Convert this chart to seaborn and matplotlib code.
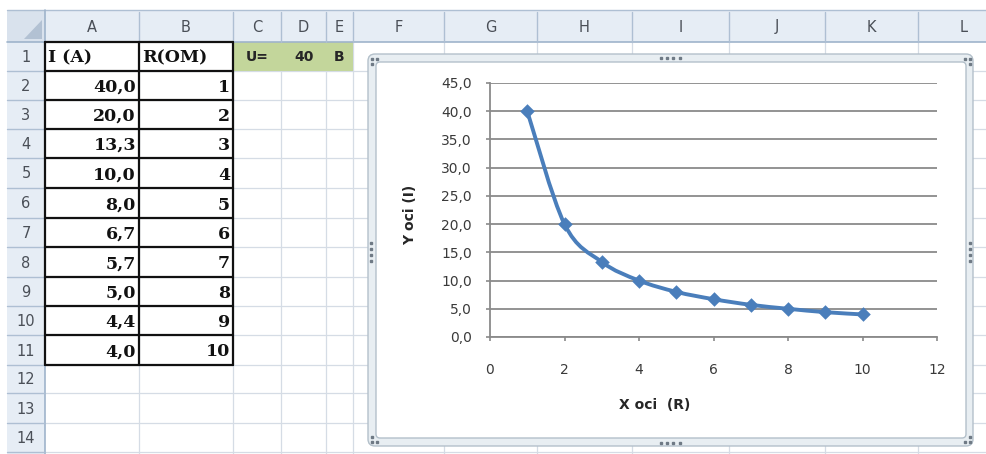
import numpy as np
import pandas as pd
import seaborn as sns
import matplotlib
matplotlib.use("Agg")
import matplotlib.pyplot as plt
from matplotlib.patches import Rectangle, FancyBboxPatch, PathPatch, Polygon
from matplotlib.path import Path
from matplotlib.ticker import FuncFormatter, FixedLocator

# ---------------- data ----------------
current_a = [40.0, 20.0, 13.3, 10.0, 8.0, 6.7, 5.7, 5.0, 4.4, 4.0]
resist_om = [1, 2, 3, 4, 5, 6, 7, 8, 9, 10]
voltage_label = ["U=", "40", "B"]
header_i = "I (A)"
header_r = "R(OM)"
col_letters = ["A", "B", "C", "D", "E", "F", "G", "H", "I", "J", "K", "L"]
row_numbers = list(range(1, 15))
x_ticks = [0, 2, 4, 6, 8, 10, 12]
y_ticks = [0, 5, 10, 15, 20, 25, 30, 35, 40, 45]
x_title = "X oci  (R)"
y_title = "Y oci (I)"

df = pd.DataFrame({"R": resist_om, "I": current_a})

sns.set_theme(style="white")
plt.rcParams["font.family"] = ["DejaVu Sans"]

W, H = 986, 454
fig = plt.figure(figsize=(W / 100, H / 100), dpi=100)
fig.patch.set_facecolor("white")

# background "spreadsheet" in pixel coordinates
bg = fig.add_axes([0, 0, 1, 1])
bg.set_xlim(0, W)
bg.set_ylim(H, 0)
bg.axis("off")

col_edges = [45, 139, 233, 281, 326, 353, 444, 537, 632, 729, 825, 918, 1010]
row_edges = [42, 71, 100, 129, 158, 188, 218, 247, 277, 306, 335, 365, 393, 423, 452]
hdr_fill = "#e6edf5"
hdr_line = "#aebfd3"
grid_col = "#d5dce5"

# header band and row header column
bg.add_patch(Rectangle((7, 10), W - 7, 32, fc=hdr_fill, ec="none", zorder=1))
bg.add_patch(Rectangle((7, 42), 38, H - 42, fc=hdr_fill, ec="none", zorder=1))
bg.add_patch(Rectangle((7, 10), 38, 32, fc="#d9e2ed", ec="none", zorder=1))
bg.add_patch(Polygon([(42, 20), (42, 39), (24, 39)], closed=True, fc="#b2c1d3", ec="none", zorder=2))
bg.plot([7, W], [10, 10], color=hdr_line, lw=1, zorder=2)
bg.plot([7, W], [42, 42], color="#9fb4cb", lw=1.2, zorder=2)
bg.plot([45, 45], [10, H], color="#9fb4cb", lw=1.2, zorder=2)
for x in col_edges[1:]:
    bg.plot([x, x], [12, 42], color=hdr_line, lw=1, zorder=2)
for y in row_edges[1:]:
    bg.plot([7, 45], [y, y], color=hdr_line, lw=1, zorder=2)

# cell gridlines
for x in col_edges[1:]:
    bg.plot([x, x], [42, H], color=grid_col, lw=0.9, zorder=1)
for y in row_edges[1:]:
    bg.plot([45, W], [y, y], color=grid_col, lw=0.9, zorder=1)

# header texts
for i, letter in enumerate(col_letters):
    cx = (col_edges[i] + col_edges[i + 1]) / 2
    bg.text(cx, 27, letter, ha="center", va="center", fontsize=10.5, color="#4a4f57", zorder=3)
for i, rn in enumerate(row_numbers):
    cy = (row_edges[i] + row_edges[i + 1]) / 2
    bg.text(26, cy + 1, str(rn), ha="center", va="center", fontsize=10.5, color="#4a4f57", zorder=3)

# green U= 40 B cells
bg.add_patch(Rectangle((233, 42), 120, 29, fc="#c3d69b", ec="none", zorder=1.5))
u_x = [257, 304, 339]
for xx, t in zip(u_x, voltage_label):
    bg.text(xx, 57, t, ha="center", va="center", fontsize=10, fontweight="bold", color="#262626", zorder=3)

# table borders (A1:B11)
for y in row_edges[:12]:
    bg.plot([45, 233], [y, y], color="#111111", lw=1.6, zorder=3)
for x in [45, 139, 233]:
    bg.plot([x, x], [42, 365], color="#111111", lw=1.6, zorder=3)

serif = ["DejaVu Serif"]
bg.text(48, 58, header_i, ha="left", va="center", fontsize=12.5, fontweight="bold", family=serif, color="#111111", zorder=4)
bg.text(142, 58, header_r, ha="left", va="center", fontsize=12.5, fontweight="bold", family=serif, color="#111111", zorder=4)
for i, (iv, rv) in enumerate(zip(current_a, resist_om)):
    cy = (row_edges[i + 1] + row_edges[i + 2]) / 2 + 2
    bg.text(136, cy, f"{iv:.1f}".replace(".", ","), ha="right", va="center", fontsize=12.5,
            fontweight="bold", family=serif, color="#111111", zorder=4)
    bg.text(230, cy, str(rv), ha="right", va="center", fontsize=12.5,
            fontweight="bold", family=serif, color="#111111", zorder=4)

# chart frame
bg.add_patch(FancyBboxPatch((368, 54), 605, 392, boxstyle="round,pad=0,rounding_size=7",
                            fc="#e8eef2", ec="#b3c0ca", lw=1, zorder=5))
bg.add_patch(FancyBboxPatch((376, 62), 590, 376, boxstyle="round,pad=0,rounding_size=4",
                            fc="white", ec="#b3c0ca", lw=1, zorder=5))
dot_kw = dict(ls="none", marker="s", ms=1.8, color="#6f7a85", zorder=6)
bg.plot([661, 667, 673, 680], [58, 58, 58, 58], **dot_kw)
bg.plot([661, 667, 673, 680], [443, 443, 443, 443], **dot_kw)
bg.plot([371, 371, 371, 371], [243, 249, 255, 261], **dot_kw)
bg.plot([970, 970, 970, 970], [243, 249, 255, 261], **dot_kw)
bg.plot([372, 377, 372], [59, 59, 64], **dot_kw)
bg.plot([965, 970, 970], [59, 59, 64], **dot_kw)
bg.plot([372, 372, 377], [437, 442, 442], **dot_kw)
bg.plot([970, 970, 965], [437, 442, 442], **dot_kw)

# ---------------- chart ----------------
ax = fig.add_axes([490 / W, (H - 337) / H, 447 / W, 254 / H])
ax.set_facecolor("none")
ax.set_xlim(0, 12)
ax.set_ylim(0, 45)
ax.xaxis.set_major_locator(FixedLocator(x_ticks))
ax.yaxis.set_major_locator(FixedLocator(y_ticks))
ax.yaxis.set_major_formatter(FuncFormatter(lambda v, p: f"{v:.1f}".replace(".", ",")))
ax.xaxis.set_major_formatter(FuncFormatter(lambda v, p: f"{int(round(v))}"))
gray = "#8a8a8a"
ax.yaxis.grid(True, color=gray, lw=1.3)
ax.xaxis.grid(False)
for s in ["top", "right"]:
    ax.spines[s].set_visible(False)
for s in ["left", "bottom"]:
    ax.spines[s].set_color(gray)
    ax.spines[s].set_linewidth(1.3)
ax.tick_params(axis="both", direction="out", length=3, width=1.2, color=gray,
               labelsize=10, labelcolor="#3a3a3a")
ax.tick_params(axis="y", pad=10, left=True)
ax.tick_params(axis="x", pad=16, bottom=True)

# smoothed line (Excel-style cubic Bezier through the data points)
pts = df[["R", "I"]].to_numpy(dtype=float)
n = len(pts)
verts = [pts[0]]
codes = [Path.MOVETO]
for i in range(n - 1):
    p_prev = pts[i - 1] if i > 0 else pts[i]
    p_next = pts[i + 2] if i + 2 < n else pts[i + 1]
    c1 = pts[i] + (pts[i + 1] - p_prev) / 6.0
    c2 = pts[i + 1] - (p_next - pts[i]) / 6.0
    verts += [c1, c2, pts[i + 1]]
    codes += [Path.CURVE4] * 3
line_color = "#4a7ebb"
ax.add_patch(PathPatch(Path(verts, codes), fill=False, ec=line_color, lw=2.8,
                       capstyle="round", joinstyle="round", zorder=4))
sns.scatterplot(data=df, x="R", y="I", marker="D", s=55, color=line_color,
                edgecolor=line_color, linewidth=0, ax=ax, zorder=5, clip_on=False)

ax.set_xlabel(x_title, fontsize=10, fontweight="bold", color="#262626")
ax.set_ylabel(y_title, fontsize=10, fontweight="bold", color="#262626")
ax.xaxis.set_label_coords((655 - 490) / 447, (337 - 405) / 254)
ax.yaxis.set_label_coords((410 - 490) / 447, (337 - 215) / 254)
ax.xaxis.label.set_va("center")
ax.yaxis.label.set_va("center")

fig.savefig("out.png", dpi=100)
